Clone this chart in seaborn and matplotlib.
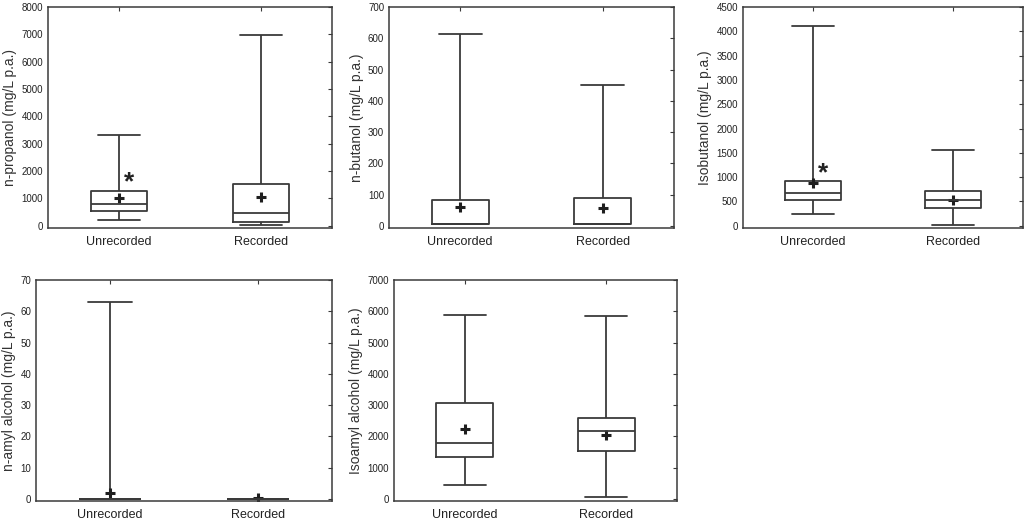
import pandas as pd
import matplotlib.pyplot as plt
import seaborn as sns

# Five-number summaries: [min, Q1, median, Q3, max]
groups = ["Unrecorded", "Recorded"]

propanol_unrec = [200, 530, 780, 1290, 3330]
propanol_rec = [30, 150, 480, 1530, 6960]
propanol_mean = [1000, 1050]

butanol_unrec = [5, 5, 5, 83, 615]
butanol_rec = [5, 5, 5, 90, 450]
butanol_mean = [60, 58]

isobutanol_unrec = [250, 530, 680, 920, 4100]
isobutanol_rec = [20, 360, 530, 720, 1560]
isobutanol_mean = [880, 540]

amyl_unrec = [0, 0, 0, 0, 63]
amyl_rec = [0, 0, 0, 0, 0]
amyl_mean = [1.8, 0.3]

isoamyl_unrec = [450, 1330, 1790, 3070, 5880]
isoamyl_rec = [60, 1530, 2180, 2570, 5850]
isoamyl_mean = [2230, 2050]

# (ylabel, unrecorded, recorded, means, ymax, ystep, asterisk y or None)
panels = [
    ("n-propanol (mg/L p.a.)", propanol_unrec, propanol_rec, propanol_mean, 8000, 1000, 1800),
    ("n-butanol (mg/L p.a.)", butanol_unrec, butanol_rec, butanol_mean, 700, 100, None),
    ("Isobutanol (mg/L p.a.)", isobutanol_unrec, isobutanol_rec, isobutanol_mean, 4500, 500, 1200),
    ("n-amyl alcohol (mg/L p.a.)", amyl_unrec, amyl_rec, amyl_mean, 70, 10, None),
    ("Isoamyl alcohol (mg/L p.a.)", isoamyl_unrec, isoamyl_rec, isoamyl_mean, 7000, 1000, None),
]

sns.set_style("white")
plt.rcParams['font.family'] = ['Liberation Sans', 'DejaVu Sans']

W, H = 1028, 523
fig = plt.figure(figsize=(W / 100, H / 100), dpi=100)

# axes boxes in pixels: left, top, right, bottom
boxes = [(48, 7, 332, 228), (389, 7, 674, 228), (743, 7, 1023, 228),
         (36, 280, 332, 501), (394, 280, 677, 501)]

line_col = "#3a3a3a"

for (ylabel, unrec, rec, means, ymax, ystep, star), (l, t, r, b) in zip(panels, boxes):
    ax = fig.add_axes([l / W, 1 - b / H, (r - l) / W, (b - t) / H])
    df = pd.DataFrame({"group": [groups[0]] * len(unrec) + [groups[1]] * len(rec),
                       "value": unrec + rec})
    sns.boxplot(data=df, x="group", y="value", order=groups, whis=(0, 100),
                width=0.4, fill=False, color=line_col, linewidth=1.3,
                capwidths=0.3, ax=ax)
    sns.pointplot(x=groups, y=means, order=groups, linestyle="none",
                  marker="+", markersize=7, markeredgewidth=2.2,
                  color="#1e1e1e", errorbar=None, ax=ax)
    if star is not None:
        # the '*' glyph sits high in its box, so nudge it down a little
        ax.annotate("*", xy=(0.07, star), xytext=(0, -4), textcoords="offset points",
                    fontsize=19, fontweight="bold", ha="center", va="center",
                    color="#222222")

    ax.set_xlim(-0.5, 1.5)
    ax.set_ylim(-ymax * 0.01, ymax)
    ax.set_yticks(range(0, ymax + 1, ystep))
    ax.set_xlabel("")
    ax.set_ylabel(ylabel, fontsize=10, color="#333333", labelpad=3)
    ax.tick_params(axis="y", labelsize=7, direction="in", right=True,
                   length=3, colors=line_col, labelcolor="#222222")
    ax.tick_params(axis="x", labelsize=9, direction="in", top=True,
                   length=3, pad=6, colors=line_col, labelcolor="#222222")
    for sp in ax.spines.values():
        sp.set_visible(True)
        sp.set_color(line_col)
        sp.set_linewidth(1.1)

fig.savefig("out.png", dpi=100)
